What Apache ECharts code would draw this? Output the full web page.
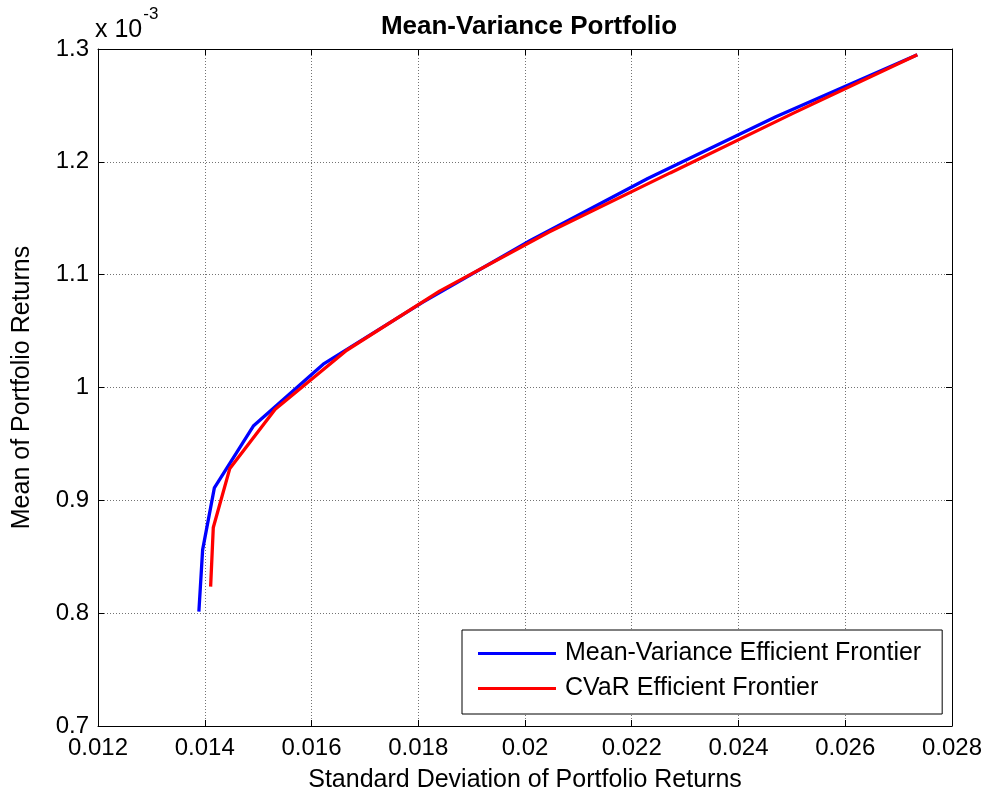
<!DOCTYPE html>
<html>
<head>
<meta charset="utf-8">
<title>Mean-Variance Portfolio</title>
<script src="https://cdn.jsdelivr.net/npm/echarts@6/dist/echarts.min.js"></script>
<style>
  html, body { margin: 0; padding: 0; background: #fff; }
  #chart { width: 989px; height: 794px; }
</style>
</head>
<body>
<div id="chart"></div>
<script>
// risk (std dev) and mean return (x 10^-3)
const mvRisk = [0.01389, 0.01396, 0.01418, 0.01491, 0.01622, 0.01808, 0.02010, 0.02230, 0.02470, 0.02735]
const mvMean = [0.8013, 0.8561, 0.9110, 0.9658, 1.0207, 1.0755, 1.1303, 1.1852, 1.2400, 1.2949]
const cvarRisk = [0.01411, 0.01416, 0.01447, 0.01532, 0.01666, 0.01840, 0.02045, 0.02272, 0.02500, 0.02735]
const cvarMean = [0.8235, 0.8759, 0.9283, 0.9807, 1.0330, 1.0854, 1.1378, 1.1902, 1.2425, 1.2949]
const seriesNames = ["Mean-Variance Efficient Frontier", "CVaR Efficient Frontier"]

const pairs = (xs, ys) => xs.map((x, i) => [x, ys[i]])

const font = "Liberation Sans, Arial, Helvetica, sans-serif"
const gridLine = { show: true, lineStyle: { color: "#444", type: [1, 2], width: 1, opacity: 0.75 } }

const myChart = echarts.init(document.getElementById("chart"))

const xBase = { type: "value", min: 0.012, max: 0.028, interval: 0.002 }
const yBase = { type: "value", min: 0.7, max: 1.3, interval: 0.1 }

const option = {
  backgroundColor: "#fff",
  animation: false,
  textStyle: { fontFamily: font },
  title: {
    text: "Mean-Variance Portfolio",
    left: 524,
    top: 9,
    textAlign: "center",
    textStyle: { fontFamily: font, fontSize: 26, fontWeight: "bold", color: "#000" },
  },
  graphic: [
    {
      type: "text",
      left: 95,
      top: 6,
      style: {
        text: "{a|x 10}{b|-3}",
        rich: {
          a: { fontFamily: font, fontSize: 25, color: "#000", padding: [12, 0, 0, 0] },
          b: { fontFamily: font, fontSize: 17, color: "#000", verticalAlign: "top", padding: [0, 0, 12, 1] },
        },
      },
    },
  ],
  grid: { left: 98, right: 37, top: 49, bottom: 68, containLabel: false, outerBoundsMode: "none" },
  legend: {
    orient: "vertical",
    left: 462,
    top: 630,
    padding: [11, 21, 13, 16],
    itemGap: 10,
    itemWidth: 78,
    itemHeight: 3,
    icon: "rect",
    borderColor: "#000",
    borderWidth: 1,
    backgroundColor: "#fff",
    textStyle: { fontFamily: font, fontSize: 25, color: "#000", padding: [0, 0, 0, 4] },
    data: seriesNames,
  },
  xAxis: [
    {
      ...xBase,
      position: "bottom",
      name: "Standard Deviation of Portfolio Returns",
      nameLocation: "middle",
      nameGap: 42,
      nameTextStyle: { fontFamily: font, fontSize: 25, color: "#000" },
      axisLine: { show: true, onZero: false, lineStyle: { color: "#000", width: 1 } },
      axisTick: { show: true, inside: true, length: 6, lineStyle: { color: "#000" } },
      axisLabel: { fontFamily: font, fontSize: 24, color: "#000", margin: 10 },
      splitLine: gridLine,
    },
    {
      ...xBase,
      position: "top",
      axisLine: { show: true, onZero: false, lineStyle: { color: "#000", width: 1 } },
      axisTick: { show: true, inside: true, length: 6, lineStyle: { color: "#000" } },
      axisLabel: { show: false },
      splitLine: { show: false },
    },
  ],
  yAxis: [
    {
      ...yBase,
      position: "left",
      name: "Mean of Portfolio Returns",
      nameLocation: "middle",
      nameGap: 63,
      nameTextStyle: { fontFamily: font, fontSize: 25, color: "#000" },
      axisLine: { show: true, onZero: false, lineStyle: { color: "#000", width: 1 } },
      axisTick: { show: true, inside: true, length: 6, lineStyle: { color: "#000" } },
      axisLabel: { fontFamily: font, fontSize: 24, color: "#000", margin: 9 },
      splitLine: gridLine,
    },
    {
      ...yBase,
      position: "right",
      axisLine: { show: true, onZero: false, lineStyle: { color: "#000", width: 1 } },
      axisTick: { show: true, inside: true, length: 6, lineStyle: { color: "#000" } },
      axisLabel: { show: false },
      splitLine: { show: false },
    },
  ],
  series: [
    {
      name: seriesNames[0],
      type: "line",
      data: pairs(mvRisk, mvMean),
      showSymbol: false,
      color: "#0000ff",
      lineStyle: { color: "#0000ff", width: 3.3 },
    },
    {
      name: seriesNames[1],
      type: "line",
      data: pairs(cvarRisk, cvarMean),
      showSymbol: false,
      color: "#ff0000",
      lineStyle: { color: "#ff0000", width: 3.3 },
    },
  ],
}

option && myChart.setOption(option)
</script>
</body>
</html>
